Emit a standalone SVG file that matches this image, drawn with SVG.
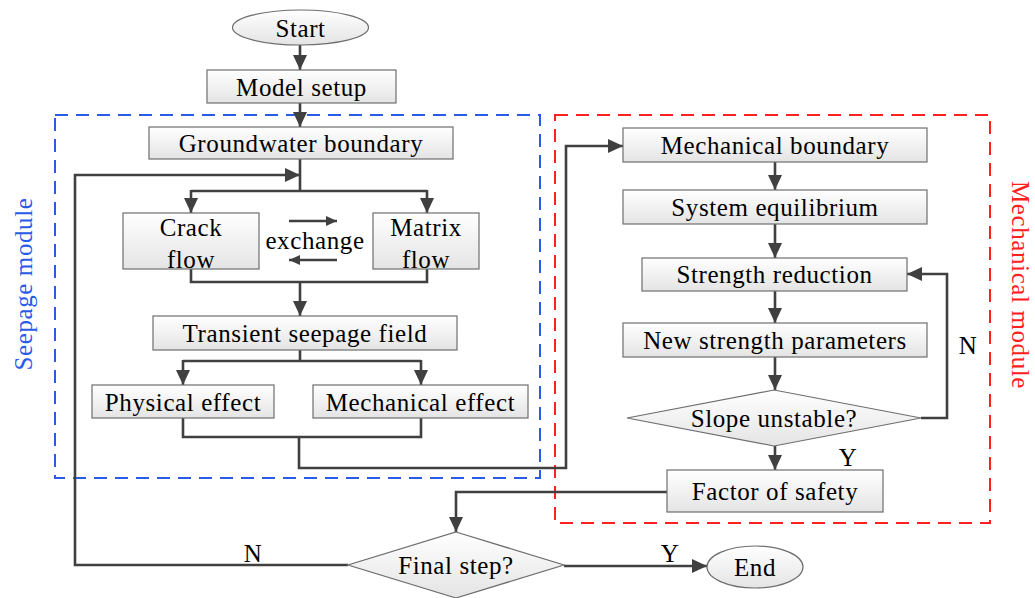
<svg xmlns="http://www.w3.org/2000/svg" width="1035" height="598" viewBox="0 0 1035 598">
<style>
text{font-family:"Liberation Serif","Times New Roman",serif;font-size:25px;fill:#000;text-anchor:middle;dominant-baseline:central;letter-spacing:0.6px}
.box{fill:url(#g);stroke:#6e6e6e;stroke-width:1.2}
.con{fill:none;stroke:#404040;stroke-width:2.6}
.arr{marker-end:url(#ah)}
.sarr{marker-end:url(#sh)}
.mod{fill:none;stroke-width:2;stroke-dasharray:13 8}
</style>
<defs>
<linearGradient id="g" x1="0" y1="0" x2="0" y2="1">
<stop offset="0" stop-color="#ffffff"/>
<stop offset="1" stop-color="#e4e4e4"/>
</linearGradient>
<marker id="ah" markerUnits="userSpaceOnUse" markerWidth="16" markerHeight="14" refX="15" refY="7" orient="auto">
<path d="M0,0 L15,7 L0,14 z" fill="#404040"/>
</marker>
<marker id="sh" markerUnits="userSpaceOnUse" markerWidth="12" markerHeight="12" refX="11" refY="5" orient="auto">
<path d="M0,0 L11,5 L0,10 z" fill="#404040"/>
</marker>
</defs>
<g id="seepage-module">
<rect class="mod" x="55" y="115" width="485" height="363" stroke="#2a5ae8"/>
<text transform="translate(23,284) rotate(-90)" fill="#2a5ae8" style="fill:#2a5ae8">Seepage module</text>
</g>
<g id="mechanical-module">
<rect class="mod" x="555" y="115" width="435" height="408" stroke="#ff2020"/>
<text transform="translate(1020,285) rotate(90)" style="fill:#ff2020">Mechanical module</text>
</g>
<g id="connectors">
<path class="con arr" d="M300,45 V70"/>
<path class="con arr" d="M300,103 V127"/>
<path class="con" d="M300,159 V191 M191,191 H427"/>
<path class="con arr" d="M191,190 V213"/>
<path class="con arr" d="M427,190 V213"/>
<path class="con arr" d="M348,565 H75 V175 H300"/>
<path class="con" d="M191,269 V282 H427 V269"/>
<path class="con arr" d="M300,282 V316"/>
<path class="con sarr" d="M289,221 H337"/>
<path class="con sarr" d="M337,260 H289"/>
<path class="con" d="M300,350 V361 M183,361 H421"/>
<path class="con arr" d="M183,360 V385"/>
<path class="con arr" d="M421,360 V385"/>
<path class="con" d="M183,418 V437 H421 V418"/>
<path class="con arr" d="M299,437 V468 H566 V146 H623"/>
<path class="con arr" d="M775,162 V190"/>
<path class="con arr" d="M775,224 V258"/>
<path class="con arr" d="M775,291 V323"/>
<path class="con arr" d="M775,357 V390"/>
<path class="con arr" d="M775,446 V470"/>
<path class="con arr" d="M921,418 H947 V274 H907"/>
<path class="con arr" d="M667,492 H456 V532"/>
<path class="con arr" d="M564,566 H707"/>
<text x="968" y="345">N</text>
<text x="848" y="457">Y</text>
<text x="253" y="553">N</text>
<text x="670" y="553">Y</text>
</g>
<g id="start">
<ellipse class="box" cx="300.5" cy="27.5" rx="68" ry="17.5"/>
<text x="300.5" y="28">Start</text>
</g>
<g id="model-setup">
<rect class="box" x="207" y="70" width="189" height="33"/>
<text x="301.5" y="87">Model setup</text>
</g>
<g id="groundwater-boundary">
<rect class="box" x="149" y="127" width="304" height="32"/>
<text x="301" y="143">Groundwater boundary</text>
</g>
<g id="crack-flow">
<rect class="box" x="123" y="213" width="136" height="56"/>
<text x="191" y="227">Crack</text>
<text x="191" y="259">flow</text>
</g>
<g id="exchange">
<text x="315" y="240">exchange</text>
</g>
<g id="matrix-flow">
<rect class="box" x="373" y="213" width="106" height="56"/>
<text x="426" y="227">Matrix</text>
<text x="426" y="259">flow</text>
</g>
<g id="transient-seepage-field">
<rect class="box" x="153" y="316" width="304" height="34"/>
<text x="305" y="333">Transient seepage field</text>
</g>
<g id="physical-effect">
<rect class="box" x="92" y="385" width="182" height="33"/>
<text x="183" y="402">Physical effect</text>
</g>
<g id="mechanical-effect">
<rect class="box" x="313" y="385" width="215" height="33"/>
<text x="420.5" y="402">Mechanical effect</text>
</g>
<g id="mechanical-boundary">
<rect class="box" x="623" y="128" width="304" height="34"/>
<text x="775" y="145">Mechanical boundary</text>
</g>
<g id="system-equilibrium">
<rect class="box" x="623" y="190" width="304" height="34"/>
<text x="775" y="207">System equilibrium</text>
</g>
<g id="strength-reduction">
<rect class="box" x="642" y="258" width="265" height="33"/>
<text x="774.5" y="274">Strength reduction</text>
</g>
<g id="new-strength-parameters">
<rect class="box" x="623" y="323" width="304" height="34"/>
<text x="775" y="340">New strength parameters</text>
</g>
<g id="slope-unstable">
<polygon class="box" points="774,390 921,418 774,446 627,418"/>
<text x="774" y="418">Slope unstable?</text>
</g>
<g id="factor-of-safety">
<rect class="box" x="667" y="470" width="216" height="42"/>
<text x="775" y="491">Factor of safety</text>
</g>
<g id="final-step">
<polygon class="box" points="456,532 564,565 456,598 348,565"/>
<text x="456" y="565">Final step?</text>
</g>
<g id="end">
<ellipse class="box" cx="755" cy="567" rx="48" ry="21"/>
<text x="755" y="567">End</text>
</g>
</svg>
